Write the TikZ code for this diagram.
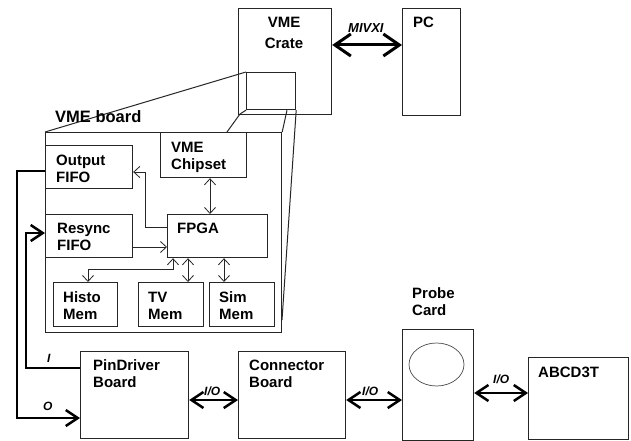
\documentclass[tikz,border=0pt]{standalone}
\usepackage{fontspec}
\setmainfont{Liberation Sans}
\usetikzlibrary{arrows.meta}
\begin{document}
\begin{tikzpicture}[x=1pt,y=-1pt,
  box/.style={draw=black!85, line width=1.2pt, inner sep=0pt, anchor=north west},
  txt/.style={anchor=base west, inner sep=0pt, font=\fontsize{15}{17}\selectfont\bfseries, align=left},
  lbl/.style={anchor=base west, inner sep=0pt, font=\fontsize{12}{14}\selectfont\bfseries\itshape},
  persp/.style={draw=black!85, line width=1pt},
  thinln/.style={draw=black!85, line width=0.8pt},
  thickln/.style={draw=black, line width=2.5pt},
  tt/.tip={Straight Barb[length=6pt,width=11pt]},
  kt/.tip={Straight Barb[length=12pt,width=16pt]},
  mt/.tip={Straight Barb[length=16pt,width=22pt]}]
\useasboundingbox (0,0) rectangle (631,441);
\fill[white] (0,0) rectangle (631,441);
% boxes
\node[box, minimum width=93pt, minimum height=106pt] (crate) at (238,8) {};
\node[box, minimum width=58pt, minimum height=107pt] (pc) at (402,8) {};
\node[box, minimum width=49pt, minimum height=37pt] (small) at (246,72) {};
\node[box, minimum width=236pt, minimum height=200pt] (board) at (45,132) {};
\node[box, minimum width=87pt, minimum height=43pt] (outfifo) at (45,145) {};
\node[box, minimum width=86pt, minimum height=45pt] (chipset) at (160,132) {};
\node[box, minimum width=100pt, minimum height=43pt] (fpga) at (167,214) {};
\node[box, minimum width=87pt, minimum height=43pt] (resync) at (45,214) {};
\node[box, minimum width=64pt, minimum height=44pt] (histo) at (53,282) {};
\node[box, minimum width=65pt, minimum height=44pt] (tv) at (138,282) {};
\node[box, minimum width=65pt, minimum height=44pt] (sim) at (209,282) {};
\node[box, minimum width=108pt, minimum height=87pt] (pindriver) at (80,351) {};
\node[box, minimum width=107pt, minimum height=87pt] (connector) at (238,351) {};
\node[box, minimum width=71pt, minimum height=111pt] (probe) at (402,329) {};
\node[box, minimum width=100pt, minimum height=82pt] (abcd) at (528,357) {};
\draw[black!70, line width=0.7pt] (436.5,364.5) ellipse [x radius=27.5pt, y radius=21.5pt];
% perspective lines
\draw[persp] (small.north west) -- (board.north west);
\draw[persp] (small.south west) -- (240,114) -- (board.north -| 227,0);
\draw[persp] (small.south -| 287,0) -- (board.north east);
\draw[persp] (small.south east) -- (282,320);
% texts (base anchor = baseline of last line)
\node[anchor=base, inner sep=0pt, font=\fontsize{15}{21}\selectfont\bfseries, align=center] (tcrate) at (284,49) {VME\\Crate};
\node[txt] (tpc) at (413,28) {PC};
\node[lbl, font=\fontsize{13}{15}\selectfont\bfseries\itshape] (tmivxi) at (348,33) {MIVXI};
\node[txt, font=\fontsize{16.5}{18}\selectfont\bfseries] (tboard) at (55,122) {VME board};
\node[txt] (tout) at (56,182) {Output\\FIFO};
\node[txt] (tchip) at (171,169) {VME\\Chipset};
\node[txt] (tfpga) at (177,233) {FPGA};
\node[txt] (tres) at (57,250) {Resync\\FIFO};
\node[txt] (thisto) at (63,319) {Histo\\Mem};
\node[txt] (ttv) at (148,319) {TV\\Mem};
\node[txt] (tsim) at (219,319) {Sim\\Mem};
\node[txt] (tpin) at (93,387) {PinDriver\\Board};
\node[txt] (tcon) at (249,387) {Connector\\Board};
\node[txt] (tprobe) at (412,315) {Probe\\Card};
\node[txt] (tabcd) at (538,377) {ABCD3T};
\node[lbl] (ti) at (47,362) {I};
\node[lbl] (to) at (43,410) {O};
\node[lbl] (tio1) at (204,395) {I/O};
\node[lbl] (tio2) at (362,395) {I/O};
\node[lbl] (tio3) at (493,383) {I/O};
% connectors inside board
\draw[thinln, tt-tt] (chipset.south -| 210,0) -- (fpga.north -| 210,0);
\draw[thinln, -tt] (fpga.west |- 0,227) -- (145,227) -- (145,172) -- (outfifo.east |- 0,172);
\draw[thinln, -tt] (resync.east |- 0,247) -- (fpga.west |- 0,247);
\draw[thinln, tt-tt] (fpga.south -| 173,0) -- (173,269) -- (88,269) -- (histo.north -| 88,0);
\draw[thinln, tt-tt] (fpga.south -| 188,0) -- (tv.north -| 188,0);
\draw[thinln, tt-tt] (fpga.south -| 224,0) -- (sim.north -| 224,0);
% outer connectors
\draw[thickln, -kt] (outfifo.west |- 0,171) -- (17,171) -- (17,418) -- (pindriver.west |- 0,418);
\draw[thickln, -kt] (pindriver.west |- 0,368) -- (26,368) -- (26,233) -- (resync.west |- 0,233);
\draw[line width=3pt, mt-mt] (crate.east |- 0,45) -- (pc.west |- 0,45);
\draw[thickln, kt-kt] (pindriver.east |- 0,400) -- (connector.west |- 0,400);
\draw[thickln, kt-kt] (connector.east |- 0,400) -- (probe.west |- 0,400);
\draw[thickln, kt-kt] (probe.east |- 0,393) -- (abcd.west |- 0,393);
\end{tikzpicture}
\end{document}
